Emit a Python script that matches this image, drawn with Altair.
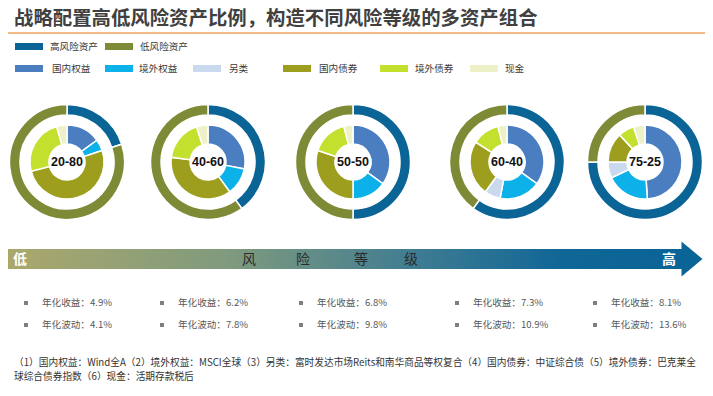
import math
import altair as alt
import pandas as pd

# ---------------- data ----------------
portfolios = ["20-80", "40-60", "50-50", "60-40", "75-25"]
high_risk = [20, 40, 50, 60, 75]
low_risk = [80, 60, 50, 40, 25]

dom_equity = [15, 28, 35, 35, 49]
ovs_equity = [5, 12, 15, 18, 19]
alternatives = [0, 0, 0, 7, 7]
dom_bonds = [51, 37, 30, 24, 13]
ovs_bonds = [24.5, 18, 16, 12, 7]
cash = [4.5, 5, 4, 4, 5]

ann_return = [4.9, 6.2, 6.8, 7.3, 8.1]
ann_vol = [4.1, 7.8, 9.8, 10.9, 13.6]

outer_names = ["高风险资产", "低风险资产"]
inner_names = ["国内权益", "境外权益", "另类", "国内债券", "境外债券", "现金"]
risk_words = ["风", "险", "等", "级"]

title = "战略配置高低风险资产比例，构造不同风险等级的多资产组合"
footnote = [
    "（1）国内权益：Wind全A（2）境外权益：MSCI全球（3）另类：富时发达市场Reits和南华商品等权复合（4）国内债券：中证综合债（5）境外债券：巴克莱全",
    "球综合债券指数（6）现金：活期存款税后",
]

# ---------------- styles / layout ----------------
outer_colors = ["#0B6496", "#7E8A35"]
inner_colors = ["#4A7EC0", "#0DB1EA", "#C9D9EE", "#9E9E1E", "#C4E02F", "#EEF0C8"]
all_names = outer_names + inner_names
all_colors = outer_colors + inner_colors

OFF = 8   # page margin
W, H = 697, 380
DONUT_CX = [67, 208, 353, 507, 645]
DONUT_CY = 162
BULLET_X = [26, 162, 301, 457, 595]


def P(v):
    return v - OFF


def ring_rows(series_names, series_lists):
    rows = []
    for i, p in enumerate(portfolios):
        cum = 0.0
        for name, lst in zip(series_names, series_lists):
            v = lst[i]
            if v > 0:
                rows.append(dict(p=p, cat=name, x=P(DONUT_CX[i]), y=P(DONUT_CY),
                                 t0=cum / 100 * 2 * math.pi,
                                 t1=(cum + v) / 100 * 2 * math.pi))
            cum += v
    return pd.DataFrame(rows)


df_outer = ring_rows(outer_names, [high_risk, low_risk])
df_inner = ring_rows(inner_names, [dom_equity, ovs_equity, alternatives,
                                   dom_bonds, ovs_bonds, cash])

color_scale = alt.Scale(domain=all_names, range=all_colors)
XP = lambda f: alt.X(f, scale=None, axis=None)
YP = lambda f: alt.Y(f, scale=None, axis=None)


def arc_layer(df, r_out, r_in):
    return alt.Chart(df).mark_arc(outerRadius=r_out, innerRadius=r_in,
                                  stroke="white", strokeWidth=1.5).encode(
        x=XP("x:Q"), y=YP("y:Q"),
        theta=alt.Theta("t0:Q", scale=None), theta2="t1:Q",
        color=alt.Color("cat:N", scale=color_scale, legend=None),
    )


outer = arc_layer(df_outer, 57.5, 47)
inner = arc_layer(df_inner, 37, 18)

df_lab = pd.DataFrame({"t": portfolios, "x": [P(c) for c in DONUT_CX], "y": [P(DONUT_CY)] * 5})
donut_labels = alt.Chart(df_lab).mark_text(font="Liberation Sans", fontWeight="bold",
                                           fontSize=12.5, color="#111111").encode(
    x=XP("x:Q"), y=YP("y:Q"), text="t:N")

one = pd.DataFrame({"a": [0]})

title_l = alt.Chart(pd.DataFrame({"t": [title]})).mark_text(
    font="Noto Sans CJK SC", fontWeight="bold", fontSize=19.4, color="#404040",
    align="left", baseline="middle").encode(x=alt.value(P(14)), y=alt.value(P(18.5)), text="t:N")

orange = alt.Chart(one).mark_rule(color="#F0A35E", strokeWidth=1.6).encode(
    x=alt.value(0), x2=alt.value(W), y=alt.value(P(33)))

# legend (drawn)
leg_rows = []
row1_sw = [15, 105]
row1_tx = [50, 140]
for n, c, sx, tx in zip(outer_names, outer_colors, row1_sw, row1_tx):
    leg_rows.append(dict(n=n, c=c, x0=P(sx), x1=P(sx + 28), y0=P(43), y1=P(50), tx=P(tx), ty=P(46.5)))
row2_sw = [15, 105, 193, 283, 380, 470]
row2_tx = [52, 139, 229, 319, 415, 505]
for n, c, sx, tx in zip(inner_names, inner_colors, row2_sw, row2_tx):
    leg_rows.append(dict(n=n, c=c, x0=P(sx), x1=P(sx + 28), y0=P(65), y1=P(72), tx=P(tx), ty=P(68.5)))
df_leg = pd.DataFrame(leg_rows)
leg_sw = alt.Chart(df_leg).mark_rect().encode(
    x=XP("x0:Q"), x2="x1:Q", y=YP("y0:Q"), y2="y1:Q",
    color=alt.Color("c:N", scale=None))
leg_tx = alt.Chart(df_leg).mark_text(font="Noto Sans CJK SC", fontSize=9.6, color="#3a3a3a",
                                     align="left", baseline="middle").encode(
    x=XP("tx:Q"), y=YP("ty:Q"), text="n:N")

# arrow
grad = alt.Gradient(gradient="linear", x1=0, x2=1, y1=0, y2=0, stops=[
    alt.GradientStop(color="#ABA86C", offset=0),
    alt.GradientStop(color="#7E9A7E", offset=0.33),
    alt.GradientStop(color="#3F7C92", offset=0.6),
    alt.GradientStop(color="#0F6697", offset=0.82),
    alt.GradientStop(color="#0B6496", offset=1),
])
bar = alt.Chart(one).mark_rect(color=grad).encode(
    x=alt.value(0), x2=alt.value(P(686)), y=alt.value(P(249)), y2=alt.value(P(269)))
head = alt.Chart(one).mark_point(shape="M-0.6,-1L0.6,0L-0.6,1Z", filled=True, opacity=1,
                                 size=35 * 35, color="#0B6496", strokeWidth=0).encode(
    x=alt.value(P(692)), y=alt.value(P(259)))

df_ends = pd.DataFrame({"t": ["低", "高"], "x": [P(20), P(669)], "y": [P(260), P(260)]})
ends = alt.Chart(df_ends).mark_text(font="Noto Sans CJK SC", fontWeight="bold", fontSize=14,
                                    color="white").encode(x=XP("x:Q"), y=YP("y:Q"), text="t:N")
df_words = pd.DataFrame({"t": risk_words, "x": [P(v) for v in [249, 303, 361, 411]], "y": [P(260)] * 4})
words = alt.Chart(df_words).mark_text(font="Noto Sans CJK SC", fontSize=14,
                                      color="#2b2b2b").encode(x=XP("x:Q"), y=YP("y:Q"), text="t:N")

# stats text
st_rows = []
for i in range(5):
    st_rows.append(dict(t=f"年化收益：{ann_return[i]}%", bx=P(BULLET_X[i]), tx=P(BULLET_X[i] + 16), y=P(303)))
    st_rows.append(dict(t=f"年化波动：{ann_vol[i]}%", bx=P(BULLET_X[i]), tx=P(BULLET_X[i] + 16), y=P(325)))
df_st = pd.DataFrame(st_rows)
bullets = alt.Chart(df_st).mark_square(size=16, color="#7F7F7F", opacity=1).encode(
    x=XP("bx:Q"), y=YP("y:Q"))
stats = alt.Chart(df_st).mark_text(font="Noto Sans CJK SC", fontSize=9.6, color="#595959",
                                   align="left", baseline="middle").encode(
    x=XP("tx:Q"), y=YP("y:Q"), text="t:N")

df_fn = pd.DataFrame({"t": footnote, "x": [P(14)] * 2, "y": [P(363), P(377)]})
foot = alt.Chart(df_fn).mark_text(font="Noto Sans CJK SC", fontSize=9.7, color="#333333",
                                  align="left", baseline="middle").encode(
    x=XP("x:Q"), y=YP("y:Q"), text="t:N")

chart = alt.layer(
    title_l, orange, leg_sw, leg_tx, outer, inner, donut_labels,
    bar, head, ends, words, bullets, stats, foot
).properties(
    width=W, height=H, padding=0,
    autosize=alt.AutoSizeParams(type="none"),
).configure_view(strokeWidth=0)

chart.save("out.html", embed_options={"renderer": "svg", "actions": False})
